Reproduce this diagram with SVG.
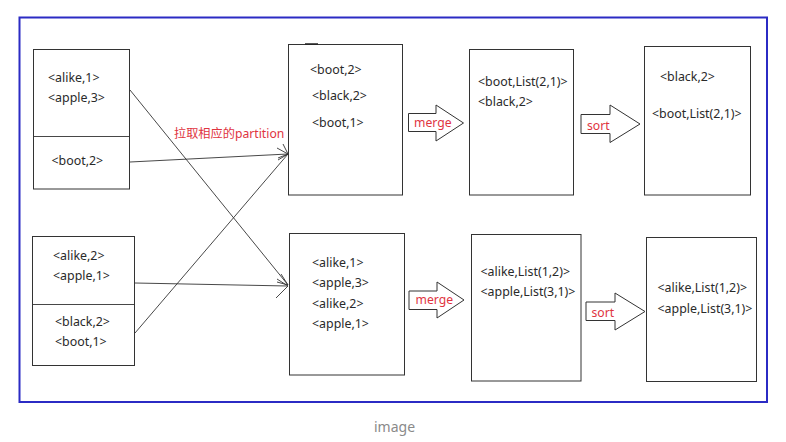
<svg xmlns="http://www.w3.org/2000/svg" width="786" height="442" viewBox="0 0 786 442">
<style>
.box{fill:#fff;stroke:#333;stroke-width:1}
.t{font-family:"Noto Sans","Liberation Sans",sans-serif;font-size:12.4px;fill:#2a2a2a}
.r{font-family:"Noto Sans","Noto Sans CJK SC",sans-serif;font-size:12.2px;fill:#e0343f}
.blk{fill:#fff;stroke:#333;stroke-width:1}
.c{fill:none;stroke:#333;stroke-width:0.9}
</style>
<rect x="0" y="0" width="786" height="442" fill="#fff"/>
<rect x="19.5" y="17.5" width="747.5" height="384.5" fill="#fff" stroke="#2b2bc4" stroke-width="2"/>

<g id="connectors">
<line class="c" x1="130" y1="90" x2="288" y2="285"/>
<line class="c" x1="130" y1="162" x2="288" y2="154"/>
<line class="c" x1="135" y1="283" x2="288" y2="286"/>
<line class="c" x1="135" y1="333" x2="288" y2="154"/>
<polyline class="c" points="277,148 288,154 278,160"/>
<polyline class="c" points="283,144 288,154 278,158"/>
<polyline class="c" points="281,274 288,285 277,282"/>
<polyline class="c" points="277,279 288,286 276,298"/>
</g>

<g id="src1">
<rect class="box" x="33.5" y="49.5" width="96" height="139.5"/>
<line class="c" x1="33.5" y1="136.5" x2="129.5" y2="136.5"/>
<text class="t" x="48" y="82">&lt;alike,1&gt;</text>
<text class="t" x="48" y="102">&lt;apple,3&gt;</text>
<text class="t" x="51.5" y="165">&lt;boot,2&gt;</text>
</g>

<g id="src2">
<rect class="box" x="32.5" y="236.5" width="102" height="129"/>
<line class="c" x1="32.5" y1="304.5" x2="134.5" y2="304.5"/>
<text class="t" x="53" y="260">&lt;alike,2&gt;</text>
<text class="t" x="53" y="280">&lt;apple,1&gt;</text>
<text class="t" x="55" y="326">&lt;black,2&gt;</text>
<text class="t" x="55" y="346">&lt;boot,1&gt;</text>
</g>

<text class="r" x="174" y="138">拉取相应的partition</text>

<g id="part1">
<rect class="box" x="288.5" y="44.5" width="114" height="150.5"/>
<line x1="305" y1="44" x2="318" y2="44" stroke="#222" stroke-width="1.5"/>
<text class="t" x="310" y="74">&lt;boot,2&gt;</text>
<text class="t" x="312" y="100">&lt;black,2&gt;</text>
<text class="t" x="312" y="127">&lt;boot,1&gt;</text>
</g>

<g id="part2">
<rect class="box" x="289.5" y="233.5" width="115" height="141.5"/>
<text class="t" x="312" y="267">&lt;alike,1&gt;</text>
<text class="t" x="312" y="287">&lt;apple,3&gt;</text>
<text class="t" x="312" y="307.5">&lt;alike,2&gt;</text>
<text class="t" x="312" y="328">&lt;apple,1&gt;</text>
</g>

<g id="merge1">
<polygon class="blk" points="408.5,113.5 436,113.5 436,105 463.5,123 436,141 436,131.5 408.5,131.5"/>
<text class="r" x="414" y="127">merge</text>
</g>
<g id="merge2">
<polygon class="blk" points="409,291 437,291 437,282 464,300 437,318 437,309.5 409,309.5"/>
<text class="r" x="415.5" y="304">merge</text>
</g>

<g id="merged1">
<rect class="box" x="469.5" y="49.5" width="104" height="145.5"/>
<text class="t" x="478" y="86">&lt;boot,List(2,1)&gt;</text>
<text class="t" x="478" y="106">&lt;black,2&gt;</text>
</g>
<g id="merged2">
<rect class="box" x="471.5" y="234.5" width="109.5" height="146.5"/>
<text class="t" x="480.5" y="276">&lt;alike,List(1,2)&gt;</text>
<text class="t" x="480.5" y="296">&lt;apple,List(3,1)&gt;</text>
</g>

<g id="sort1">
<polygon class="blk" points="581,114.5 610,114.5 610,105 640,124 610,142.5 610,133.5 581,133.5"/>
<text class="r" x="587" y="129.5">sort</text>
</g>
<g id="sort2">
<polygon class="blk" points="586,302 615,302 615,293 645,311.5 615,330 615,320.5 586,320.5"/>
<text class="r" x="591.5" y="317">sort</text>
</g>

<g id="sorted1">
<rect class="box" x="644.5" y="46.5" width="106" height="148.5"/>
<text class="t" x="660" y="81">&lt;black,2&gt;</text>
<text class="t" x="652" y="117.5">&lt;boot,List(2,1)&gt;</text>
</g>
<g id="sorted2">
<rect class="box" x="646.5" y="237.5" width="110" height="144"/>
<text class="t" x="657.5" y="292">&lt;alike,List(1,2)&gt;</text>
<text class="t" x="657.5" y="313">&lt;apple,List(3,1)&gt;</text>
</g>

<text x="374" y="432" font-family="'Noto Sans','Liberation Sans',sans-serif" font-size="14" fill="#8a8a8a">image</text>
</svg>
